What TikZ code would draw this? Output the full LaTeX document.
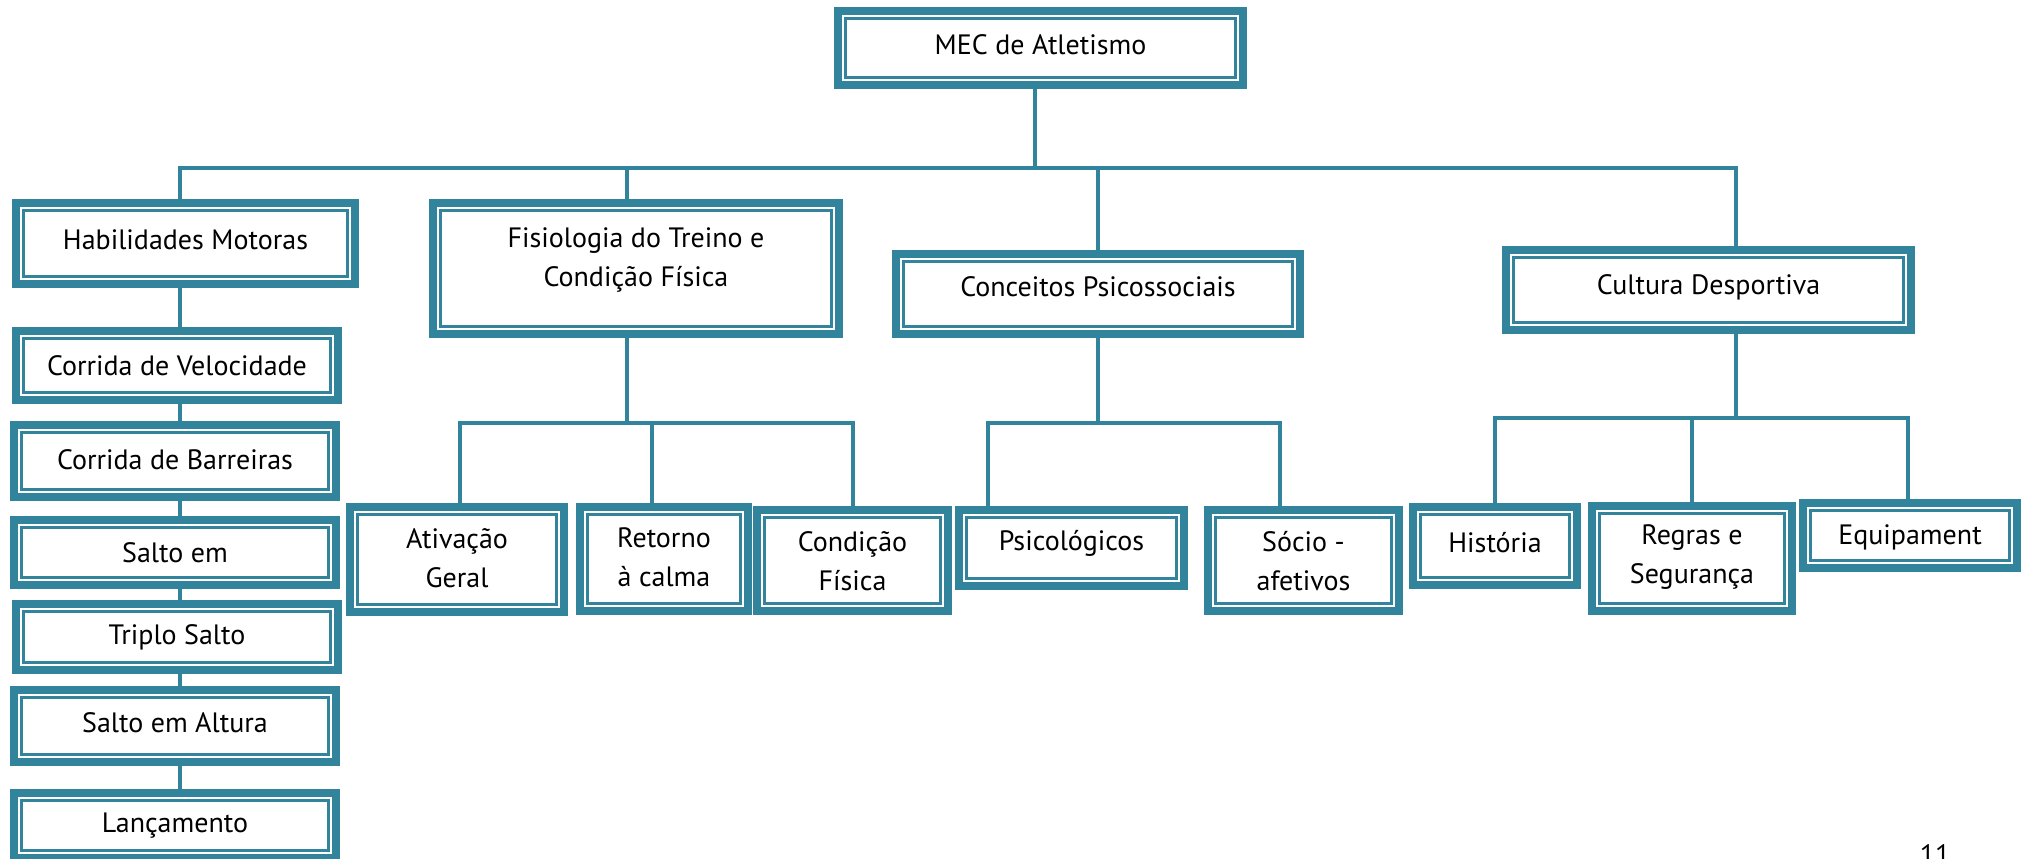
\documentclass[tikz,border=0pt]{standalone}
\usepackage{fontspec}
\setmainfont{PT Sans}
\definecolor{teal}{HTML}{31849B}
\tikzset{
  tbox/.style={rectangle, draw=teal, line width=4pt, fill=white,
    inner sep=0pt, outer sep=0pt,
    path picture={\draw[teal, line width=1.3pt]
      ([shift={(3.65pt,3.65pt)}]path picture bounding box.south west) rectangle
      ([shift={(-3.65pt,-3.65pt)}]path picture bounding box.north east);}},
  ttext/.style={align=center, inner sep=0pt, font=\fontsize{14pt}{19.5pt}\selectfont},
  conn/.style={draw=teal, line width=2pt}
}
% box from its outer corners (x1,y1)-(x2,y2), text shifted down by dy
\newcommand\tbx[7]{%
  \node[tbox, minimum width={(#4-#2-8)*0.5pt}, minimum height={(#5-#3-8)*0.5pt}]
    (#1) at ({(#2+#4)/2},{(#3+#5)/2}) {};
  \node[ttext] (#1-t) at ([yshift={-(#6)*0.5pt}]#1.center) {#7};
}
\begin{document}
\begin{tikzpicture}[x=0.5pt, y=-0.5pt]
\fill[white] (0,0) rectangle (2022,858);
\useasboundingbox (0,0) rectangle (2022,858);

% connector levels
\coordinate (bus) at (0,168);
\coordinate (fbus) at (0,423);
\coordinate (cbus) at (0,423);
\coordinate (dbus) at (0,418);
\coordinate (lx) at (180,0);

% top
\tbx{mec}{834}{7}{1247}{89}{-3}{MEC de Atletismo}

% second level
\tbx{hab}{12}{199}{359}{288}{-3.5}{Habilidades Motoras}
\tbx{fis}{429}{199}{843}{338}{-9}{Fisiologia do Treino e\\Condição Física}
\tbx{con}{892}{250}{1304}{338}{-7}{Conceitos Psicossociais}
\tbx{cul}{1502}{246}{1915}{334}{-3}{Cultura Desportiva}

% motor skills column
\tbx{cdv}{12}{327}{342}{404}{0}{Corrida de Velocidade}
\tbx{bar}{10}{421}{340}{501}{-1}{Corrida de Barreiras}
\tbx{sal}{10}{516}{340}{589}{0}{Salto em}
\tbx{tri}{12}{600}{342}{674}{0}{Triplo Salto}
\tbx{alt}{10}{686}{340}{766}{-3}{Salto em Altura}
\tbx{lan}{10}{789}{340}{862}{0}{Lançamento}

% physiology
\tbx{ati}{346}{503}{568}{616}{-1.5}{Ativação\\Geral}
\tbx{ret}{576}{503}{752}{615}{-2}{Retorno\\à calma}
\tbx{cfi}{753}{506}{952}{615}{0.5}{Condição\\Física}

% psychosocial
\tbx{psi}{955}{506}{1188}{590}{-5}{Psicológicos}
\tbx{soc}{1204}{506}{1403}{615}{1}{Sócio -\\afetivos}

% sports culture
\tbx{his}{1409}{503}{1581}{589}{-3}{História}
\tbx{reg}{1588}{502}{1796}{615}{-1.5}{Regras e\\Segurança}
\tbx{equ}{1799}{499}{2021}{572}{1.5}{Equipament}

% page number
\node[ttext, anchor=base] (pg) at (1935,864) {11};

% top level connectors
\draw[conn] ([xshift=-2.75pt]mec.south) -- ([xshift=-2.75pt]mec.south |- bus);
\draw[conn] ([xshift=-2.75pt]hab.north) |- ([xshift=13.75pt]cul.north |- bus)
  -- ([xshift=13.75pt]cul.north);
\draw[conn] ([xshift=-4.5pt]fis.north) -- ([xshift=-4.5pt]fis.north |- bus);
\draw[conn] (con.north) -- (con.north |- bus);

% motor skills chain
\foreach \a/\b in {hab/cdv, cdv/bar, bar/sal, sal/tri, tri/alt, alt/lan}
  \draw[conn] (\a.south -| lx) -- (\b.north -| lx);

% physiology branch
\draw[conn] ([xshift=-4.5pt]fis.south) -- ([xshift=-4.5pt]fis.south |- fbus);
\draw[conn] ([xshift=1.5pt]ati.north) |- ([xshift=0.25pt]cfi.north |- fbus)
  -- ([xshift=0.25pt]cfi.north);
\draw[conn] ([xshift=-6pt]ret.north) -- ([xshift=-6pt]ret.north |- fbus);

% psychosocial branch
\draw[conn] (con.south) -- (con.south |- cbus);
\draw[conn] ([xshift=-41.75pt]psi.north) |- ([xshift=-11.75pt]soc.north |- cbus)
  -- ([xshift=-11.75pt]soc.north);

% sports culture branch
\draw[conn] ([xshift=13.75pt]cul.south) -- ([xshift=13.75pt]cul.south |- dbus);
\draw[conn] (his.north) |- ([xshift=-1pt]equ.north |- dbus) -- ([xshift=-1pt]equ.north);
\draw[conn] (reg.north) -- (reg.north |- dbus);
\end{tikzpicture}
\end{document}
